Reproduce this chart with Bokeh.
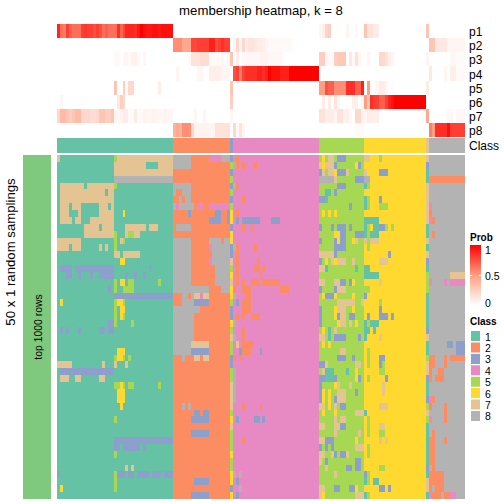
from bokeh.plotting import figure
from bokeh.models import Range1d, ColumnDataSource
from bokeh.core.properties import value
from bokeh.embed import file_html
from bokeh.resources import INLINE
import numpy as np

title_text = "membership heatmap, k = 8"
prob_labels = ["p1", "p2", "p3", "p4", "p5", "p6", "p7", "p8"]
class_labels = ["1", "2", "3", "4", "5", "6", "7", "8"]
class_colors = ["#66C2A5", "#FC8D62", "#8DA0CB", "#E78AC3", "#A6D854", "#FFD92F", "#E5C494", "#B3B3B3"]
class_sizes = [39, 19, 1, 29, 15, 21, 1, 12]

# membership probabilities: (first column, values) runs, all other columns 0
p1 = [(0, [.88,.65,.6,.8,.7,.65,.65,.65,.8,.83,.8,.8,.75,.8,.75,.65,.7,.65,.65,.65,.85,.68,.78,.88,.88,.88,.85,.92,1,.95,.92,.92,.95,.95,.92,.95,.95,.95,.95]),
      (88, [.05,.08,.22,.25,0,0,0,0,0,.05,0,0,.04,0,0,.3,.15,.15,.1,.1]), (124, [.3])]
p2 = [(39, [.55,.55,.55,.45,.45,.45,.78,.78,.8,.8,.8,.8,.9,.9,.75,.8,.85,.8,.8]),
      (59, [.05,.2,.05,.2,.1,.15,.15,.12,.1,.1,.08,.05,.03,.03,.03,.03,.03,.03,.03,.03]),
      (125, [.3,.3,.12,.12,.12,.12,.05,.05,.05,.05,.05,.05])]
p3 = [(19, [.03,.03,0,.04,.05,.03,.06,.07,.04,0,.05]), (44, [.03,.15,.15,.15,.18,.18,.18,.03,.03,.03,.03,.05,0,.05,.3,0,.1,0]),
      (62, [.04,.04,.04,.04,.04,.04,.06,.06,.06,.04,.04,.04,.04,.04]),
      (88, [.25,.25,.05,.03,.03,.25,.28,.28,.28,0,.12,.03,.15,.05,0,0,.05,0,0,0,.2,.2,.15,.08,.05]),
      (124, [.05]), (132, [.04,.04,.02,.02,.02])]
p4 = [(40, [.05]), (47, [.05,.05,0,0,.08,.08,.08,.08,.05,.05,.04]),
      (59, [.75,.8,.6,.8,.85,.85,.85,.85,.9,.9,.85,.9,1,.95,.95,.95,.9,.9,.9,1,1,1,1,1,1,1,1,1,1]),
      (125, [.12]), (130, [.05,0,.08,.08,.03,.03,.03])]
p5 = [(19, [.3,0,0,.25,.03,.2,.2]), (34, [.08]), (58, [.3]),
      (88, [.5,.5,.75,.7,.7,.55,.55,.55,.55,.85,.85,.85,.7,.7,.9,0,.5,0,0,.05,.1,.1,.05,0,.03]), (124, [.1])]
p6 = [(1, [.05]), (20, [.12,.25,.2]), (58, [.25]),
      (89, [.1,0,.1,0,.15,.05,0,0,0,0,.08,.08,0,.05,.5,.3,.85,.8,.8,.7,.7,.8,.9,.95,1,1,1,1,1,1,1,1,1,1,1])]
p7 = [(0, [.2,.35,.35,.3,.25,.3,.35,.35,.2,.2,.2,.18,.18,.2,.3,.3,.25,.25,.3,.05,.05,.06,.1,.1,.02,.02,.1,.02,.03,.06,.05,.05,.06,.05,.04,.04,.06,.04,.04]),
      (46, [.05,0,0,.05]), (58, [.05]),
      (88, [.15,.15,.08,.1,.1,.05,.15,.15,.06,.08,.03,0,.2,.2,.06,.05,.1,.08,.08,.08]),
      (124, [.45]), (131, [.04,.04,0,.04,.04,.04])]
p8 = [(39, [.4,.45,.4,.55,.55,.55,.2,.06,.06,.06,.06,.06,.05,.05,.15,.15,.15,.15,.15]),
      (59, [.2,.03,.15,.05]), (100, [.03,.03,.03]),
      (125, [.6,.5,.85,.85,.85,.85,.95,.8,.8,.8,.8,.8])]
prob_rows = [p1, p2, p3, p4, p5, p6, p7, p8]

# the single-column classes, per sampling
class3_column = [3,5,3,5,3,5,3,5,6,6,3,6,6,3,3,7,5,6,7,6,6,5,3,3,6,5,7,5,5,3,3,5,5,7,7,7,7,5,6,7,5,5,5,6,5,5,6,6,3,6]
class7_column = [7,3,1,1,7,7,7,7,7,7,1,1,7,1,7,3,1,5,5,5,1,1,1,1,1,3,7,1,1,5,7,7,3,1,1,3,5,7,5,1,1,1,1,1,1,3,1,7,7,1]

# per sampling: (first column, last column, class) where it differs from the consensus class
sampling_rows = [
 [(0,0,7),(19,19,5),(20,38,7),(39,44,8),(51,54,4),(55,57,8),(60,60,2),(89,89,6),(91,92,7),(94,96,3),(103,104,7),(108,108,5)],
 [(19,29,7),(30,33,1),(34,38,7),(39,44,8),(59,59,8),(60,60,2),(62,62,2),(66,66,2),(88,88,7),(89,89,6),(90,92,7),(93,93,3),(100,100,6),(101,101,3)],
 [(19,38,7),(88,88,3),(89,89,7),(91,92,7),(93,93,6),(94,96,3),(97,97,7),(103,103,7),(108,110,3)],
 [(19,38,8),(88,92,8),(93,93,7),(100,102,3),(103,104,8),(125,136,2)],
 [(1,8,7),(10,18,7),(19,19,5),(39,44,8),(59,59,8),(60,60,2),(94,96,3),(103,103,1),(104,104,5)],
 [(1,15,7),(17,18,7),(39,39,8),(42,44,8),(90,91,1),(93,93,3)],
 [(1,18,7),(41,41,8),(43,44,8),(62,62,2),(88,89,3),(90,90,1),(103,103,1),(104,104,5),(108,108,3)],
 [(1,3,7),(5,7,7),(14,16,7),(18,18,7),(39,39,8),(40,40,4),(41,45,8),(47,48,4),(51,57,4),(98,98,3),(103,103,1),(104,104,5),(108,110,5),(125,125,4)],
 [(1,3,7),(7,7,7),(14,18,7),(22,22,6),(44,44,3),(53,54,3),(57,57,3),(60,60,2),(89,89,6),(91,91,6),(93,93,6),(125,125,2)],
 [(1,4,7),(6,7,7),(11,18,7),(51,54,3),(57,57,3),(60,60,3),(62,67,3),(72,74,3),(103,107,1),(125,125,4),(126,126,2)],
 [(9,13,7),(15,18,7),(23,29,7),(31,33,7),(40,44,8),(62,62,2),(65,65,2),(88,88,3),(92,92,3),(94,96,3),(98,98,3),(103,103,1),(104,104,5),(106,107,1),(108,109,3),(110,110,5),(112,112,5)],
 [(9,18,7),(19,19,5),(23,23,7),(24,25,5),(26,27,7),(93,94,6),(95,96,3),(100,102,3),(103,103,1),(104,104,5),(105,107,1),(126,126,2)],
 [(0,7,7),(19,19,5),(21,21,7),(22,22,5),(39,44,8),(51,54,8),(56,57,8),(88,88,3),(93,93,3),(94,94,6),(95,96,3),(99,99,6),(100,100,7),(103,103,7),(104,104,5),(105,107,7)],
 [(0,3,7),(5,7,7),(14,14,7),(16,16,7),(19,19,5),(39,44,8),(51,51,4),(52,57,8),(59,59,8),(60,60,2),(66,66,2),(93,96,3),(104,104,5)],
 [(19,20,7),(22,27,7),(39,44,8),(52,57,8),(60,60,2),(88,92,7),(93,93,3),(111,111,3)],
 [(21,22,6),(39,44,8),(51,51,4),(52,57,8),(60,60,2),(67,67,2),(88,88,3),(90,90,6),(92,92,7),(93,93,6),(94,96,7),(99,99,7),(108,110,7)],
 [(1,4,3),(6,18,3),(31,31,3),(39,44,8),(53,57,8),(60,60,2),(66,67,2),(69,69,2),(88,89,7),(90,90,1),(100,100,1),(103,104,1)],
 [(3,4,3),(7,7,3),(11,11,3),(14,18,3),(23,23,3),(26,26,3),(29,29,3),(39,44,8),(53,57,8),(60,60,2),(68,68,2),(103,107,1),(132,136,7)],
 [(19,19,5),(21,22,6),(24,25,5),(34,34,5),(39,44,8),(53,57,8),(60,60,2),(62,62,2),(65,67,2),(69,74,2),(88,89,7),(93,94,7),(95,96,3),(98,98,3),(99,99,6),(108,108,7),(125,125,4),(130,130,4),(132,136,4)],
 [(17,17,3),(19,19,5),(22,25,5),(39,50,8),(55,57,8),(59,59,2),(62,64,2),(75,77,2),(88,88,3),(93,93,3),(94,96,7),(103,104,5)],
 [(19,38,3),(42,43,8),(45,45,8),(46,47,7),(48,48,4),(49,50,7),(59,59,8),(63,64,2),(89,89,6),(90,92,3),(93,93,6),(99,99,6),(103,103,3)],
 [(1,1,6),(19,19,5),(20,21,6),(22,22,5),(42,45,8),(46,50,3),(60,60,3),(62,64,2),(94,99,7),(102,102,7),(108,108,5)],
 [(19,19,5),(21,22,6),(39,47,8),(62,64,2),(88,88,3),(93,93,6),(94,96,7),(99,99,6),(108,108,3)],
 [(19,19,5),(21,21,6),(22,22,5),(39,45,8),(60,60,2),(62,62,2),(65,67,2),(88,88,3),(93,93,6),(94,94,3),(95,96,7),(98,99,3),(104,104,3),(108,110,3),(112,112,3)],
 [(17,18,3),(19,19,5),(25,25,5),(39,45,8),(59,59,8),(88,88,3),(94,94,6),(95,96,7),(98,98,7),(100,100,6),(103,103,1),(104,104,5),(105,107,1)],
 [(1,1,3),(3,3,3),(7,7,3),(14,15,3),(17,18,3),(39,45,8),(62,62,2),(89,89,6),(91,91,1),(93,93,7),(103,104,1),(106,106,1)],
 [(39,45,8),(59,59,8),(62,62,2),(88,89,7),(91,91,1),(93,96,3),(101,101,3),(103,103,1),(108,108,7)],
 [(39,44,8),(45,50,7),(60,60,7),(62,65,2),(89,89,6),(91,91,6),(131,132,3),(134,136,3)],
 [(20,22,6),(39,44,8),(45,50,3),(61,61,3),(62,64,2),(68,68,3),(95,96,7),(104,104,5),(134,136,3)],
 [(19,19,5),(20,21,6),(22,22,5),(24,24,5),(42,42,8),(46,47,7),(49,50,7),(59,59,2),(61,61,2),(94,96,3),(99,99,3),(104,104,5),(108,109,3),(125,126,2),(130,130,2),(132,136,2)],
 [(0,4,7),(15,15,7),(19,19,7),(23,23,7),(88,89,3),(90,90,7),(100,101,7),(104,104,5),(108,108,3),(109,109,5),(125,126,2),(130,130,2)],
 [(1,18,3),(59,59,8),(89,89,7),(90,92,1),(97,97,1),(100,100,6),(108,109,5),(125,125,2),(128,129,2)],
 [(1,3,7),(6,7,7),(14,15,7),(59,59,8),(88,89,3),(90,92,1),(93,93,3),(100,100,6),(101,101,3),(104,104,5),(110,110,3),(125,125,2),(127,129,2)],
 [(19,20,5),(21,21,6),(22,22,5),(24,25,5),(34,34,5),(59,59,8),(88,88,3),(93,93,6),(94,94,7),(98,98,7),(109,109,7)],
 [(20,22,6),(59,59,8),(88,88,3),(89,89,6),(91,91,6),(94,96,7),(100,100,3),(109,109,7)],
 [(20,22,6),(59,59,8),(88,88,3),(89,89,6),(91,91,6),(93,93,3),(94,96,7),(125,125,4),(126,126,2)],
 [(21,21,6),(42,42,8),(44,44,8),(62,62,2),(68,68,2),(88,89,7),(91,91,6),(93,93,7),(95,96,3),(108,110,7),(125,125,2),(130,130,2)],
 [(46,47,3),(49,50,3),(89,89,6),(93,93,6),(100,102,7),(103,103,1),(130,130,2)],
 [(19,19,5),(45,50,3),(60,60,3),(66,67,3),(69,69,3),(93,93,7),(95,96,7),(104,104,5),(125,125,4),(130,130,2)],
 [(88,89,7),(93,94,7),(95,96,3),(104,104,5),(108,109,7)],
 [(45,50,3),(93,93,7),(101,101,7),(104,104,5),(108,109,5),(126,126,2)],
 [(19,38,3),(62,62,2),(88,89,7),(90,92,3),(100,100,6),(108,108,7),(110,110,7),(125,126,2),(130,130,2)],
 [(19,20,3),(22,27,3),(29,29,3),(88,88,3),(90,90,3),(92,92,3),(100,102,7),(104,104,5),(125,126,2)],
 [(19,19,5),(88,89,7),(92,92,7),(93,93,3),(95,96,3),(97,97,7),(104,104,5),(125,126,2)],
 [(88,88,7),(90,90,3),(100,101,3),(125,126,2)],
 [(23,23,7),(25,25,7),(90,90,7),(97,98,3),(100,101,3),(108,109,5),(126,126,2)],
 [(0,0,3),(19,19,5),(20,22,3),(24,25,3),(27,30,3),(32,34,3),(36,38,3),(59,59,8),(61,61,8),(93,93,7),(103,103,3),(104,104,5),(125,129,2)],
 [(19,19,5),(46,50,3),(60,60,3),(103,103,1),(104,104,5),(106,107,1),(125,129,2)],
 [(1,1,6),(19,19,5),(61,61,8),(88,89,7),(93,94,3),(98,99,3),(100,100,6),(108,109,3),(111,111,3),(125,125,2),(127,129,2)],
 [(45,50,3),(60,60,3),(88,88,7),(89,89,6),(100,102,7),(103,103,1),(104,104,5),(125,125,4),(126,128,2),(130,131,2),(132,133,4)],
]

# ---- derive matrices ----
n_cols = sum(class_sizes)
consensus = np.repeat(np.arange(1, 9), class_sizes)
n_rows = len(sampling_rows)
matrix = np.tile(consensus, (n_rows, 1))
for r, devs in enumerate(sampling_rows):
    for a, b, k in devs:
        matrix[r, a:b + 1] = k
first_class3 = class_sizes[0] + class_sizes[1]
first_class7 = sum(class_sizes[:6])
matrix[:, first_class3] = class3_column
matrix[:, first_class7] = class7_column

probs = np.zeros((8, n_cols))
for i, runs in enumerate(prob_rows):
    for start, vals in runs:
        probs[i, start:start + len(vals)] = vals


def prob_color(v):
    stops = [(255, 255, 255), (255, 158, 129), (255, 0, 0)]
    t = min(max(v, 0), 1) * 2
    i = min(int(t), 1)
    f = t - i
    rgb = [round(stops[i][j] + (stops[i + 1][j] - stops[i][j]) * f) for j in range(3)]
    return "#%02x%02x%02x" % tuple(rgb)


# layout in pixels of the 504 x 504 picture
X0, X1 = 57, 465
Y0, Y1 = 155, 499
col_w = (X1 - X0) / n_cols
row_h = (Y1 - Y0) / n_rows
P_EDGES = [24, 38, 52, 66, 81, 95, 109, 123, 137]
HALF = 0.5   # the SVG context is translated half a pixel


def sx(c):
    return (np.round(X0 + col_w * np.asarray(c, float)) - X0) / col_w


def sy(r):
    return (np.round(Y0 + row_h * np.asarray(r, float)) - Y0) / row_h


p = figure(width=504, height=504, output_backend="svg", toolbar_location=None,
           x_range=Range1d((HALF - X0) / col_w, (504 + HALF - X0) / col_w),
           y_range=Range1d((504 + HALF - Y0) / row_h, (HALF - Y0) / row_h),
           min_border=0, margin=(0, 0, 0, 0), outline_line_color=None,
           background_fill_color="white", border_fill_color="white")
p.xaxis.visible = False
p.yaxis.visible = False
p.grid.visible = False
p.extra_y_ranges["px"] = Range1d(504 + HALF, HALF)
p.extra_x_ranges["px"] = Range1d(HALF, 504 + HALF)

# main heatmap, runs in each row
L, R, T, B, C = [], [], [], [], []
for r in range(n_rows):
    row = matrix[r]
    s = 0
    for c in range(1, n_cols + 1):
        if c == n_cols or row[c] != row[s]:
            L.append(float(sx(s))); R.append(float(sx(c))); T.append(float(sy(r))); B.append(float(sy(r + 1)))
            C.append(class_colors[row[s] - 1])
            s = c
p.quad(left="l", right="r", top="t", bottom="b", fill_color="c", line_color=None,
       source=ColumnDataSource(dict(l=L, r=R, t=T, b=B, c=C)))

# membership rows
L, R, T, B, C = [], [], [], [], []
for i in range(8):
    for c in range(n_cols):
        if probs[i, c] > 0:
            L.append(float(sx(c))); R.append(float(sx(c + 1))); T.append(P_EDGES[i]); B.append(P_EDGES[i + 1])
            C.append(prob_color(probs[i, c]))
p.quad(left="l", right="r", top="t", bottom="b", fill_color="c", line_color=None, y_range_name="px",
       source=ColumnDataSource(dict(l=L, r=R, t=T, b=B, c=C)))

# class annotation
edges = np.concatenate([[0], np.cumsum(class_sizes)])
p.quad(left=sx(edges[:-1]), right=sx(edges[1:]), top=138, bottom=153, fill_color=class_colors,
       line_color=None, y_range_name="px")

# left bar
p.quad(left=23, right=51, top=155, bottom=499, fill_color="#7FC97F", line_color=None,
       x_range_name="px", y_range_name="px")

FONT = value("Liberation Sans")


def txt(x, y, s, size, align="left", base="middle", angle=0, style="normal"):
    p.text(x=[x], y=[y], text=[s], text_font=FONT, text_font_size=value(size), text_align=align,
           text_baseline=base, angle=angle, angle_units="deg", text_color="black",
           text_font_style=style, x_range_name="px", y_range_name="px")


txt(261, 10.5, title_text, "13.2px", align="center")
for i, lab in enumerate(prob_labels):
    txt(469, (P_EDGES[i] + P_EDGES[i + 1]) / 2 + 1, lab, "12px")
txt(469, 146, "Class", "12px")
txt(10.5, 252, "50 x 1 random samplings", "13.2px", align="center", angle=90)
txt(38, 327, "top 1000 rows", "10.4px", align="center", angle=90)

# probability legend
txt(470, 237, "Prob", "10px", style="bold")
gy = np.arange(245, 305)
p.quad(left=470, right=481, top=gy, bottom=gy + 1, fill_color=[prob_color((305 - y - .5) / 60) for y in gy],
       line_color=None, x_range_name="px", y_range_name="px")
for xa, xb in ((470, 472), (479, 481)):
    p.segment(x0=[xa], x1=[xb], y0=[275.5], y1=[275.5], line_color="white", line_width=1,
              x_range_name="px", y_range_name="px")
txt(485, 249.5, "1", "10.5px")
txt(485, 276, "0.5", "10.5px")
txt(485, 303, "0", "10.5px")

# class legend
txt(470, 321, "Class", "10px", style="bold")
for i, lab in enumerate(class_labels):
    y = 330.5 + 11.4 * i
    p.quad(left=471, right=480, top=y + .6, bottom=y + 10.6, fill_color=class_colors[i], line_color=None,
           x_range_name="px", y_range_name="px")
    txt(485, y + 6, lab, "10.5px")

open("out.html", "w").write(file_html(p, INLINE))
